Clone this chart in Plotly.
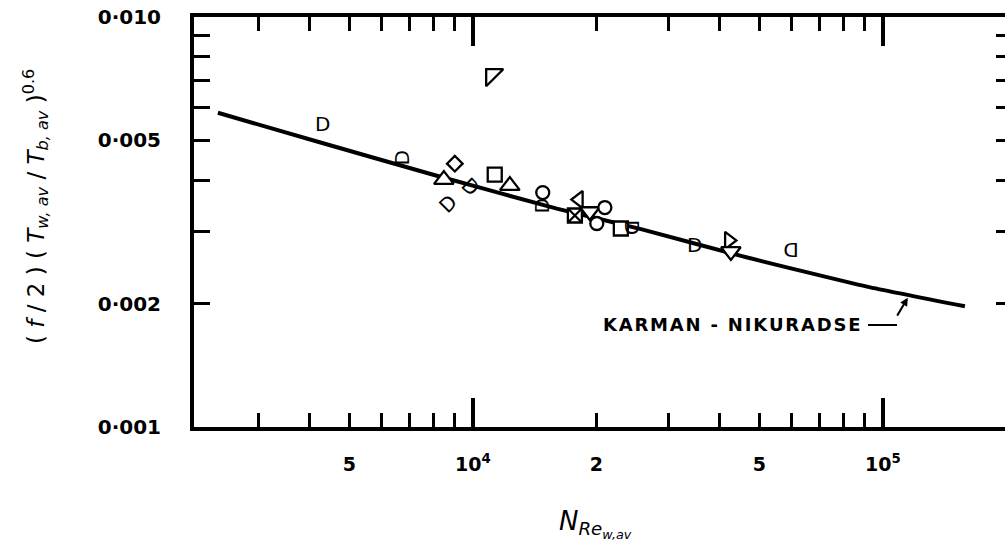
import numpy as np
import plotly.graph_objects as go

# Karman-Nikuradse smooth-tube curve, read along its length
kn_re = [2390, 4170, 8170, 16030, 25980, 45310, 91410, 158500]
kn_val = [0.00584, 0.00497, 0.00410, 0.00341, 0.00303, 0.00261, 0.00220, 0.00197]

# measured points drawn with ordinary marker symbols
pt_re = [9040, 8500, 11310, 12310, 14810, 18140, 17740, 19290, 20990,
         20060, 22960, 42110, 42590, 11130]
pt_val = [0.004388, 0.004012, 0.004126, 0.003880, 0.003731, 0.003587,
          0.003280, 0.003354, 0.003430, 0.003136, 0.003049, 0.002851,
          0.002680, 0.007224]
pt_symbol = ["diamond", "triangle-up", "square", "triangle-up", "circle",
             "triangle-left", "square-x", "triangle-down", "circle", "circle",
             "square", "triangle-right", "triangle-down", "triangle-nw"]

# half-round (D shaped) points and the way each one faces (degrees)
d_re = [4305, 6711, 9890, 8690, 14740, 24560, 34790, 59660]
d_val = [0.005490, 0.004538, 0.003858, 0.003508, 0.003468, 0.003066,
         0.002772, 0.002711]
d_turn = [0, -90, 45, -45, -90, 90, 0, 180]

# axis ticks and labels
x_major = [1e4, 1e5]
x_minor = [3e3, 4e3, 5e3, 6e3, 7e3, 8e3, 9e3,
           2e4, 3e4, 4e4, 5e4, 6e4, 7e4, 8e4, 9e4]
x_label_vals = [5e3, 1e4, 2e4, 5e4, 1e5]
x_label_text = ["5", "10<sup>4</sup>", "2", "5", "10<sup>5</sup>"]
y_tickvals = [0.001, 0.002, 0.005, 0.010]
y_ticktext = ["0\u00b7001", "0\u00b7002", "0\u00b7005", "0\u00b7010"]
y_minor = [0.003, 0.004, 0.006, 0.007, 0.008, 0.009]

curve_name = "\u200a".join("KARMAN") + "\u200a \u200a-\u200a \u200a" + "\u200a".join("NIKURADSE")
leader_re = 1.16e5

# figure geometry (pixels)
W, H = 1005, 554
ML, MR, MT, MB = 194, 0, 17, 127
PW, PH = W - ML - MR, H - MT - MB
x_range = [np.log10(2090), np.log10(198500)]
y_range = [-3, -2]

sizes = {"triangle-up": 17, "triangle-down": 17, "triangle-left": 15,
         "triangle-right": 15, "triangle-nw": 19, "square": 14,
         "square-x": 14, "circle": 13, "diamond": 12}

fig = go.Figure()

fig.add_trace(go.Scatter(
    x=kn_re, y=kn_val, mode="lines",
    line=dict(color="black", width=4, shape="spline", smoothing=0.5),
    hoverinfo="skip", showlegend=False))

fig.add_trace(go.Scatter(
    x=pt_re, y=pt_val, mode="markers",
    marker=dict(symbol=pt_symbol, size=[sizes[s] for s in pt_symbol],
                color="white", opacity=1,
                line=dict(color="black", width=2.3)),
    hoverinfo="skip", showlegend=False))

# empty traces that bring the label axis and the right-hand tick axis into use
fig.add_trace(go.Scatter(x=[], y=[], xaxis="x2", yaxis="y",
                         hoverinfo="skip", showlegend=False))
fig.add_trace(go.Scatter(x=[], y=[], xaxis="x", yaxis="y2",
                         hoverinfo="skip", showlegend=False))

for r, v, turn in zip(d_re, d_val, d_turn):
    fig.add_annotation(
        x=np.log10(r), y=np.log10(v), xref="x", yref="y", text="D",
        showarrow=False, textangle=turn,
        font=dict(family="DejaVu Sans", size=20, color="black"))

# curve label and its leader
fig.add_annotation(
    x=(731 - ML) / PW, y=(MT + PH - 324) / PH, xref="paper", yref="paper",
    text=curve_name, showarrow=False, xanchor="center", yanchor="middle",
    font=dict(family="DejaVu Sans", size=18, color="black", weight="bold"))
lv = 10 ** np.interp(np.log10(leader_re), np.log10(kn_re), np.log10(kn_val))
fig.add_annotation(
    x=np.log10(leader_re), y=np.log10(lv), xref="x", yref="y", text="",
    showarrow=True, ax=-13, ay=22, arrowhead=2, arrowsize=0.8,
    arrowwidth=2, arrowcolor="black", standoff=3)
fig.add_shape(type="line", xref="paper", yref="paper",
              x0=(868 - ML) / PW, x1=(897 - ML) / PW,
              y0=(MT + PH - 325) / PH, y1=(MT + PH - 325) / PH,
              line=dict(color="black", width=2))

# axis titles
fig.add_annotation(
    x=(35 - ML) / PW, y=(MT + PH - 207) / PH, xref="paper", yref="paper",
    text="( <i>f</i> / 2 ) ( <i>T</i><sub><i>w, av</i></sub> / <i>T</i><sub><i>b, av</i></sub> )<sup>0.6</sup>",
    textangle=-90, showarrow=False, xanchor="center", yanchor="middle",
    font=dict(family="DejaVu Sans", size=23, color="black"))
fig.add_annotation(
    x=(595 - ML) / PW, y=(MT + PH - 524) / PH, xref="paper", yref="paper",
    text="<i>N</i><sub><i>Re</i><sub><i>w,av</i></sub></sub>",
    showarrow=False, xanchor="center", yanchor="middle",
    font=dict(family="DejaVu Sans", size=26, color="black"))

tick_font = dict(family="DejaVu Sans", size=19, color="black", weight="bold")

fig.update_layout(
    width=W, height=H,
    margin=dict(l=ML, r=MR, t=MT, b=MB, pad=0),
    paper_bgcolor="white", plot_bgcolor="white",
    xaxis=dict(
        type="log", range=x_range, showgrid=False, zeroline=False,
        showline=True, linecolor="black", linewidth=4, mirror="ticks",
        tickmode="array", tickvals=x_major, showticklabels=False,
        ticks="inside", ticklen=29, tickwidth=3.5, tickcolor="black",
        minor=dict(tickmode="array", tickvals=x_minor, ticks="inside",
                   ticklen=14, tickwidth=2.5, tickcolor="black",
                   showgrid=False)),
    xaxis2=dict(
        type="log", range=x_range, overlaying="x", anchor="y", side="bottom",
        showgrid=False, zeroline=False, showline=False, ticks="",
        tickmode="array", tickvals=x_label_vals, ticktext=x_label_text,
        ticklabelstandoff=24, tickfont=tick_font),
    yaxis=dict(
        type="log", range=y_range, showgrid=False, zeroline=False,
        showline=True, linecolor="black", linewidth=4, mirror=False,
        tickmode="array", tickvals=y_tickvals, ticktext=y_ticktext,
        ticks="inside", ticklen=16, tickwidth=3, tickcolor="black",
        ticklabelstandoff=25,
        tickfont=dict(family="DejaVu Sans", size=20, color="black",
                      weight="bold"),
        minor=dict(tickmode="array", tickvals=y_minor, ticks="inside",
                   ticklen=16, tickwidth=3, tickcolor="black",
                   showgrid=False)),
    yaxis2=dict(
        type="log", range=y_range, overlaying="y", anchor="x", side="right",
        showgrid=False, zeroline=False, showline=False,
        tickmode="array", tickvals=y_tickvals, showticklabels=False,
        ticks="inside", ticklen=9, tickwidth=3, tickcolor="black",
        minor=dict(tickmode="array", tickvals=y_minor, ticks="inside",
                   ticklen=9, tickwidth=3, tickcolor="black",
                   showgrid=False)),
    showlegend=False,
)

fig.write_html("out.html", config={"displayModeBar": False})
